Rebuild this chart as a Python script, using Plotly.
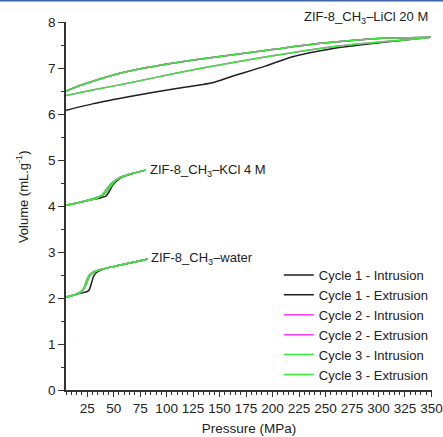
import plotly.graph_objects as go

# ---------------- data ----------------
# ZIF-8_CH3-water
w_c1_in_p = [5, 10, 15, 20, 25, 27, 29, 31, 34, 38, 45, 55, 65, 75, 82]
w_c1_in_v = [2.02, 2.05, 2.08, 2.11, 2.14, 2.18, 2.32, 2.47, 2.56, 2.61, 2.66, 2.71, 2.76, 2.81, 2.85]
w_ex_p = [82, 75, 65, 55, 45, 38, 32, 28, 26, 24, 21, 17, 12, 5]
w_ex_v = [2.85, 2.81, 2.76, 2.71, 2.66, 2.62, 2.57, 2.50, 2.42, 2.30, 2.18, 2.11, 2.06, 2.02]
w_c3_in_p = [5, 10, 15, 19, 22, 24, 27, 31, 36, 45, 55, 65, 75, 82]
w_c3_in_v = [2.02, 2.05, 2.08, 2.12, 2.22, 2.36, 2.50, 2.57, 2.61, 2.66, 2.71, 2.76, 2.81, 2.85]

# ZIF-8_CH3-KCl 4 M
k_c1_in_p = [5, 10, 20, 30, 38, 43, 46, 49, 52, 56, 62, 70, 80]
k_c1_in_v = [4.02, 4.04, 4.09, 4.14, 4.18, 4.22, 4.32, 4.45, 4.53, 4.60, 4.66, 4.72, 4.78]
k_ex_p = [80, 70, 62, 56, 52, 48, 44, 40, 35, 28, 20, 12, 5]
k_ex_v = [4.78, 4.72, 4.67, 4.62, 4.56, 4.45, 4.32, 4.24, 4.19, 4.14, 4.09, 4.05, 4.02]
k_c3_in_p = [5, 10, 20, 30, 35, 39, 43, 47, 51, 56, 62, 70, 80]
k_c3_in_v = [4.02, 4.04, 4.09, 4.14, 4.18, 4.24, 4.36, 4.48, 4.55, 4.61, 4.67, 4.72, 4.78]

# ZIF-8_CH3-LiCl 20 M
l_c1_in_p = [5, 30, 68, 105, 143, 162, 193, 218, 256, 290, 309, 334, 349]
l_c1_in_v = [6.08, 6.22, 6.39, 6.54, 6.68, 6.82, 7.04, 7.24, 7.42, 7.52, 7.57, 7.63, 7.67]
l_ex_p = [349, 330, 309, 280, 243, 200, 143, 110, 84, 55, 34, 18, 5]
l_ex_v = [7.67, 7.66, 7.65, 7.61, 7.53, 7.40, 7.23, 7.12, 7.02, 6.88, 6.74, 6.62, 6.50]
l_c3_in_p = [5, 30, 68, 105, 143, 190, 243, 280, 309, 334, 349]
l_c3_in_v = [6.40, 6.52, 6.69, 6.87, 7.04, 7.23, 7.42, 7.52, 7.58, 7.63, 7.67]

x_ticks = [25, 50, 75, 100, 125, 150, 175, 200, 225, 250, 275, 300, 325, 350]
y_ticks = [0, 1, 2, 3, 4, 5, 6, 7, 8]

labels = ["ZIF-8_CH<sub>3</sub>\u2013LiCl 20 M",
          "ZIF-8_CH<sub>3</sub>\u2013KCl 4 M",
          "ZIF-8_CH<sub>3</sub>\u2013water"]

BLACK = "#1e1e1e"
MAG = "#ff3cff"
GREEN = "#3ae83a"
FONT = "Liberation Sans, Arial, sans-serif"

fig = go.Figure()

samples = [
    (w_c1_in_p, w_c1_in_v, w_ex_p, w_ex_v, w_c3_in_p, w_c3_in_v),
    (k_c1_in_p, k_c1_in_v, k_ex_p, k_ex_v, k_c3_in_p, k_c3_in_v),
    (l_c1_in_p, l_c1_in_v, l_ex_p, l_ex_v, l_c3_in_p, l_c3_in_v),
]

series = [
    ("Cycle 1 - Intrusion", BLACK, 0),
    ("Cycle 1 - Extrusion", BLACK, 1),
    ("Cycle 2 - Intrusion", MAG, 2),
    ("Cycle 2 - Extrusion", MAG, 1),
    ("Cycle 3 - Intrusion", GREEN, 2),
    ("Cycle 3 - Extrusion", GREEN, 1),
]

for name, color, kind in series:
    for i, s in enumerate(samples):
        if kind == 0:
            xs, ys = s[0], s[1]
        elif kind == 1:
            xs, ys = s[2], s[3]
        else:
            xs, ys = s[4], s[5]
        fig.add_trace(go.Scatter(
            x=xs, y=ys, mode="lines", name=name, legendgroup=name,
            showlegend=(i == 0),
            line=dict(color=color, width=1.5, shape="spline", smoothing=0.6)))

fig.add_annotation(x=349, y=8.0, xref="x", yref="y", text=labels[0], showarrow=False,
                   xanchor="right", yanchor="middle", yshift=5,
                   font=dict(size=13, color="#222", family=FONT))
fig.add_annotation(x=82, y=4.78, xref="x", yref="y", text=labels[1], showarrow=False,
                   xanchor="left", yanchor="middle", font=dict(size=13, color="#222", family=FONT))
fig.add_annotation(x=83, y=2.86, xref="x", yref="y", text=labels[2], showarrow=False,
                   xanchor="left", yanchor="middle", font=dict(size=13, color="#222", family=FONT))

# y-axis title placed as in the reference
fig.add_annotation(xref="paper", yref="paper", x=(22 - 66) / 367, y=(390 - 197) / 368,
                   text="Volume (mL.g<sup>-1</sup>)", textangle=-90, showarrow=False,
                   xanchor="center", yanchor="middle",
                   font=dict(size=13, color="#222", family=FONT))

# thin blue frame line at top of image
fig.add_shape(type="line", xref="paper", yref="paper", x0=-0.2, x1=1.1,
              y0=1 + 21.5 / 368, y1=1 + 21.5 / 368, line=dict(color="#3f64a8", width=2))

fig.update_layout(
    width=443, height=437,
    margin=dict(l=66, r=10, t=22, b=47),
    paper_bgcolor="white", plot_bgcolor="white",
    font=dict(family=FONT, size=13, color="#222"),
    legend=dict(x=0.58, y=0.0, xanchor="left", yanchor="bottom",
                bgcolor="rgba(0,0,0,0)", font=dict(size=13, color="#222"),
                itemwidth=30, tracegroupgap=0),
    xaxis=dict(range=[5, 350.5], tickvals=x_ticks, showgrid=False, zeroline=False,
               showline=True, linecolor="#333", linewidth=1.5,
               ticks="outside", ticklen=5, tickcolor="#333", tickwidth=1.2,
               ticklabeloverflow="allow", tickfont=dict(size=13.5),
               minor=dict(dtick=5, tick0=0, ticks="outside", ticklen=3, tickcolor="#333", tickwidth=1),
               title=dict(text="Pressure (MPa)", standoff=9, font=dict(size=13.5)), automargin=False),
    yaxis=dict(range=[0, 8], tickvals=y_ticks, showgrid=False, zeroline=False,
               showline=True, linecolor="#333", linewidth=1.5,
               ticks="outside", ticklen=6, tickcolor="#333", tickwidth=1.2,
               tickfont=dict(size=13.5),
               minor=dict(dtick=0.5, tick0=0, ticks="outside", ticklen=3, tickcolor="#333", tickwidth=1),
               automargin=False),
)

fig.write_html("out.html")
